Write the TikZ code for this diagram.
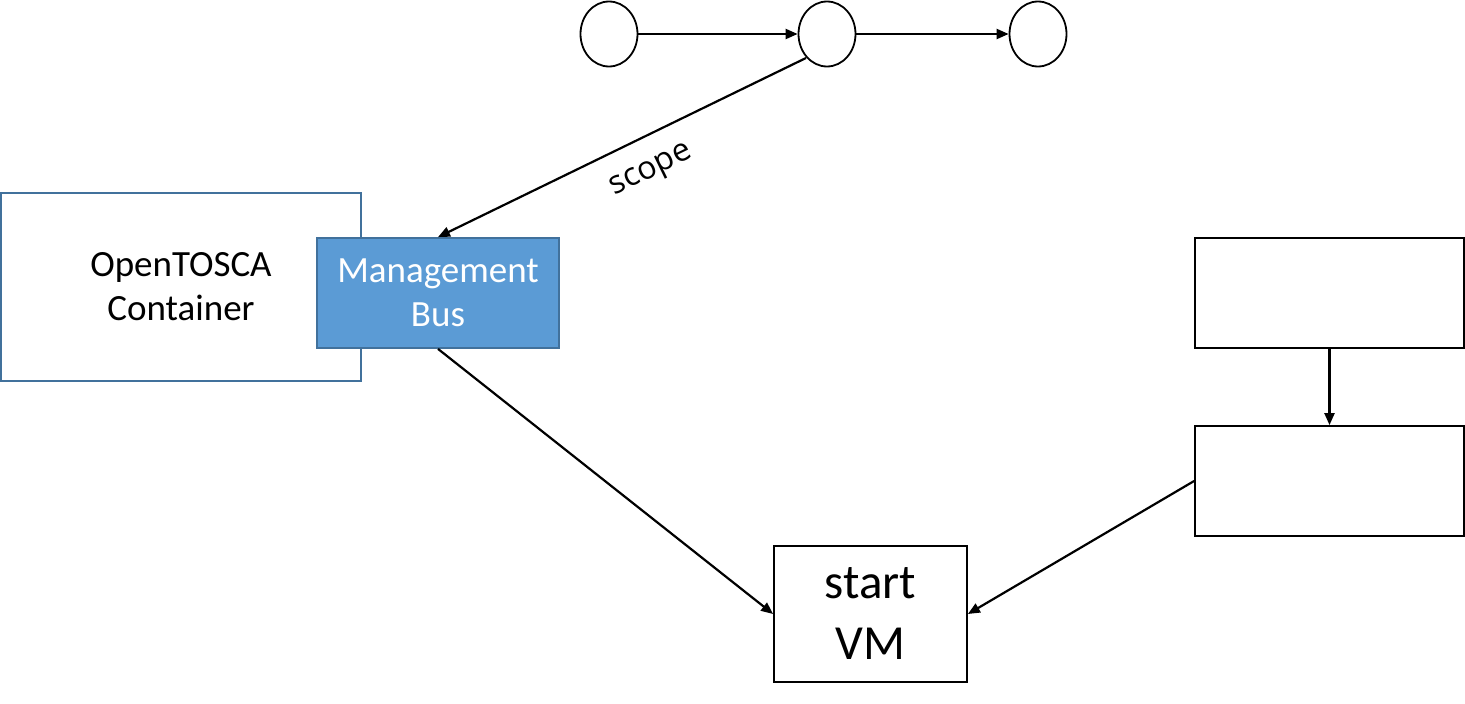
\documentclass[tikz,border=0pt]{standalone}
\usepackage{fontspec}
\setmainfont{Carlito}
\newfontfamily\scopefont{Open Sans}
\usetikzlibrary{arrows.meta,shapes.geometric}
\definecolor{bluebord}{HTML}{41719C}
\definecolor{bluefill}{HTML}{5B9BD5}
\begin{document}
\begin{tikzpicture}[x=1pt,y=-1pt,
  conn/.style={line width=2.2pt,-{Triangle[length=12pt,width=10pt]}},
  stepcircle/.style={draw,line width=1.8pt,ellipse,minimum width=57pt,minimum height=65pt,inner sep=0pt},
  wbox/.style={draw,line width=1.8pt,rectangle,inner sep=0pt,align=center},
  bluebox/.style={draw=bluebord,line width=1.8pt,rectangle,inner sep=0pt,align=center}]
\useasboundingbox (0,0) rectangle (1465,704);
% step circles
\node[stepcircle] (c1) at (609,34) {};
\node[stepcircle] (c2) at (827,34) {};
\node[stepcircle] (c3) at (1038,34) {};
\draw[conn] (c1) -- (c2);
\draw[conn] (c2) -- (c3);
% container
\node[bluebox,minimum width=360pt,minimum height=188pt,font=\fontsize{37}{44}\selectfont] (cont) at (181,287) {OpenTOSCA\\Container};
\node[bluebox,fill=bluefill,text=white,minimum width=242pt,minimum height=110pt,font=\fontsize{37}{44}\selectfont] (mb) at (438,293) {Management\\Bus};
% start VM
\node[wbox,minimum width=193pt,minimum height=136pt,font=\fontsize{49}{61}\selectfont] (vm) at (870.5,614) {start\\VM};
% right boxes
\node[wbox,minimum width=269pt,minimum height=110pt] (r1) at (1329.5,293) {};
\node[wbox,minimum width=269pt,minimum height=110pt] (r2) at (1329.5,481) {};
% connectors
\coordinate (c2out) at (806,58);
\draw[conn] (c2out) -- node[sloped,below=18pt,pos=0.46,font=\scopefont\fontsize{32}{36}\selectfont] {scope} (mb.north);
\draw[conn] (mb.south) -- (vm.west);
\draw[conn] (r1.south) -- (r2.north);
\draw[conn] (r2.west) -- (vm.east);
\end{tikzpicture}
\end{document}
